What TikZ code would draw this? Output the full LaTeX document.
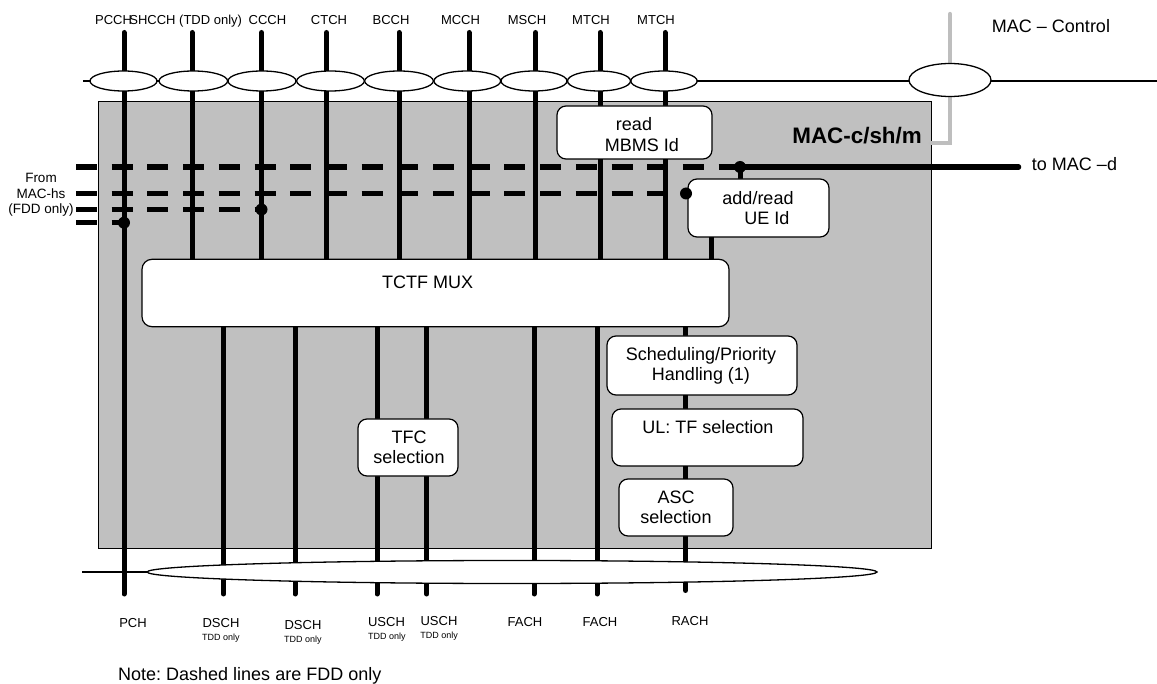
\documentclass[tikz,border=0pt]{standalone}
\usepackage{fontspec}
\setmainfont{Liberation Sans}
\usetikzlibrary{shapes.geometric}
\pgfdeclarelayer{bg}
\pgfdeclarelayer{mid}
\pgfsetlayers{bg,mid,main}
\definecolor{macgray}{RGB}{192,192,192}
\definecolor{ctlgray}{RGB}{190,190,190}
\frenchspacing
\begin{document}
\begin{tikzpicture}[x=1pt,y=-1pt,
  chan/.style={line width=5pt,line cap=round},
  fdd/.style={line width=5.5pt,dash pattern=on 21pt off 14.7pt},
  blk/.style={draw,line width=1.2pt,rounded corners=9pt,fill=white,inner sep=0pt,outer sep=0pt,anchor=north west},
  ell/.style={ellipse,draw,fill=white,line width=1.3pt,inner sep=0pt,outer sep=0pt,minimum height=20pt},
  fdot/.style={circle,fill=black,inner sep=0pt,minimum size=12pt},
  toplbl/.style={font=\fontsize{13}{15}\selectfont,inner sep=0pt,anchor=base},
  boxlbl/.style={font=\fontsize{18}{21}\selectfont,inner sep=0pt,anchor=base},
  tddlbl/.style={font=\fontsize{9}{10}\selectfont,inner sep=0pt,anchor=base},
  hslbl/.style={font=\fontsize{13.5}{15.5}\selectfont,inner sep=0pt,anchor=base},
]
\useasboundingbox (0,0) rectangle (1157,684);

% background block
\begin{pgfonlayer}{bg}
\node[draw,fill=macgray,line width=0.8pt,minimum width=833pt,minimum height=447pt,anchor=north west,inner sep=0pt,outer sep=0pt] (mac) at (98,101) {};
\end{pgfonlayer}

% function boxes
\node[blk,rounded corners=10pt,minimum width=587pt,minimum height=67.4pt] (mux) at (142,259.3) {};
\node[blk,minimum width=155pt,minimum height=53pt] (mbms) at (557,106) {};
\node[blk,minimum width=141pt,minimum height=58pt] (ue) at (688,179) {};
\node[blk,minimum width=190pt,minimum height=59pt] (sched) at (607,336) {};
\node[blk,minimum width=191pt,minimum height=57pt] (ultf) at (612,409) {};
\node[blk,minimum width=114pt,minimum height=57pt] (asc) at (619,479) {};
\node[blk,minimum width=100pt,minimum height=57pt] (tfc) at (358,419) {};

% ellipses on the top line
\node[ell,minimum width=67pt] (epcch) at (123.5,81) {};
\node[ell,minimum width=68.5pt] (eshcch) at (193.3,81) {};
\node[ell,minimum width=68pt] (eccch) at (262,81) {};
\node[ell,minimum width=67.6pt] (ectch) at (330.5,81) {};
\node[ell,minimum width=68.6pt] (ebcch) at (399,81) {};
\node[ell,minimum width=66.7pt] (emcch) at (467.3,81) {};
\node[ell,minimum width=66pt] (emsch) at (534,81) {};
\node[ell,minimum width=63pt] (emtchA) at (599,81) {};
\node[ell,minimum width=66.3pt] (emtchB) at (664,81) {};
\node[ell,minimum width=82pt,minimum height=33pt] (ectl) at (950,80) {};

% bottom ellipse
\node[ell,minimum width=730pt,minimum height=23pt] (ebot) at (512,572) {};

% dots
\node[fdot] (d1) at (740,167) {};
\node[fdot] (d2) at (686,193.5) {};
\node[fdot] (d3) at (261.5,209.5) {};
\node[fdot] (d4) at (124,222.7) {};

% coordinates
\coordinate (ctlT) at (950,14);
\coordinate (ctlE) at (931,143);
\coordinate (topL) at (83,81);
\coordinate (topR) at (1157,81);
\coordinate (botL) at (82,572);
\coordinate (Tpcch) at (124,32.5);
\coordinate (Bpch) at (124,594);
\coordinate (Jue) at (711.7,250);
\coordinate (hs1) at (76,167);
\coordinate (hs2) at (76,193.5);
\coordinate (hs3) at (76,209.5);
\coordinate (hs4) at (76,222.7);
\coordinate (toMACd) at (1018.5,167);
\foreach \n/\x in {shcch/192,ccch/261.5,ctch/326.5,bcch/399,mcch/469,msch/535.5,mtchA/600,mtchB/665}
  {\coordinate (T\n) at (\x,32.5);}
\foreach \n/\x in {dschA/223.5,dschB/295,uschA/377,uschB/426.7,fachA/534,fachB/597}
  {\coordinate (B\n) at (\x,594);}
\coordinate (Brach) at (685.5,590.5);

\begin{pgfonlayer}{mid}
\draw[ctlgray,line width=4.3pt,line cap=round] (ctlT) |- (ctlE);
\draw[line width=1.8pt] (topL) -- (topR);
\draw[line width=1.8pt] (botL) -- (ebot.west);
\draw[chan] (Tpcch) -- (Bpch);
\foreach \n in {shcch,ccch,ctch,bcch,mcch,msch,mtchA,mtchB}
  {\draw[chan] (T\n) -- (T\n |- mux.north);}
\foreach \n in {dschA,dschB,uschA,uschB,fachA,fachB,rach}
  {\draw[chan] (B\n |- mux.south) -- (B\n);}
\draw[chan] (Jue |- ue.south) -- (Jue |- mux.north);
\draw[chan] (d1.center) -- (d1.center |- ue.north);
\draw[fdd] (hs1) -- (d1.center);
\draw[fdd] (hs2) -- (d2.center);
\draw[fdd] (hs3) -- (d3.center);
\draw[fdd] (hs4) -- (d4.center);
\draw[line width=5.5pt,line cap=round] (d1.center) -- (toMACd);
\end{pgfonlayer}

% top labels
\node[toplbl] (lpcch) at (113.5,25) {PCCH};
\node[toplbl] (lshcch) at (185.7,25) {SHCCH (TDD only)};
\node[toplbl] (lccch) at (267.5,25) {CCCH};
\node[toplbl] (lctch) at (329,25) {CTCH};
\node[toplbl] (lbcch) at (391,25) {BCCH};
\node[toplbl] (lmcch) at (460.5,25) {MCCH};
\node[toplbl] (lmsch) at (527,25) {MSCH};
\node[toplbl] (lmtchA) at (591,25) {MTCH};
\node[toplbl] (lmtchB) at (656,25) {MTCH};

% right labels
\node[boxlbl] (lctl) at (1051,32.3) {MAC – Control};
\node[boxlbl] (lmacd) at (1074.5,171) {to MAC –d};
\node[font=\fontsize{22.4}{25}\selectfont\bfseries,inner sep=0pt,anchor=base east] (lmac) at (922,144) {MAC-c/sh/m};

% From MAC-hs
\node[hslbl] (lhs1) at (41,182.8) {From};
\node[hslbl] (lhs2) at (41,198.3) {MAC-hs};
\node[hslbl] (lhs3) at (41,213.8) {(FDD only)};

% box texts
\node[boxlbl] (tmbms1) at (634,130.5) {read};
\node[boxlbl] (tmbms2) at (642,151.3) {MBMS Id};
\node[boxlbl] (tue1) at (758,204.4) {add/read};
\node[boxlbl] (tue2) at (767,224.6) {UE Id};
\node[boxlbl] (tmux) at (427.7,288.4) {TCTF MUX};
\node[boxlbl] (tsched1) at (701,360.4) {Scheduling/Priority};
\node[boxlbl] (tsched2) at (701,380.4) {Handling (1)};
\node[boxlbl] (tultf) at (708,433.4) {UL: TF selection};
\node[boxlbl] (tasc1) at (676,503.4) {ASC};
\node[boxlbl] (tasc2) at (676,523.4) {selection};
\node[boxlbl] (ttfc1) at (409,443.4) {TFC};
\node[boxlbl] (ttfc2) at (409,463.4) {selection};

% bottom labels
\node[toplbl] (lpch) at (133,627.7) {PCH};
\node[toplbl] (ldschA) at (221,627.7) {DSCH};
\node[tddlbl] (tdschA) at (221,640.2) {TDD only};
\node[toplbl] (ldschB) at (303,629.7) {DSCH};
\node[tddlbl] (tdschB) at (303,642.2) {TDD only};
\node[toplbl] (luschA) at (386.5,626.7) {USCH};
\node[tddlbl] (tuschA) at (387,639.2) {TDD only};
\node[toplbl] (luschB) at (439,625.7) {USCH};
\node[tddlbl] (tuschB) at (439.2,638.2) {TDD only};
\node[toplbl] (lfachA) at (525,626.7) {FACH};
\node[toplbl] (lfachB) at (600,626.7) {FACH};
\node[toplbl] (lrach) at (690,625.7) {RACH};

% note
\node[boxlbl,anchor=base west] (note) at (118,680) {Note: Dashed lines are FDD only};
\end{tikzpicture}
\end{document}
